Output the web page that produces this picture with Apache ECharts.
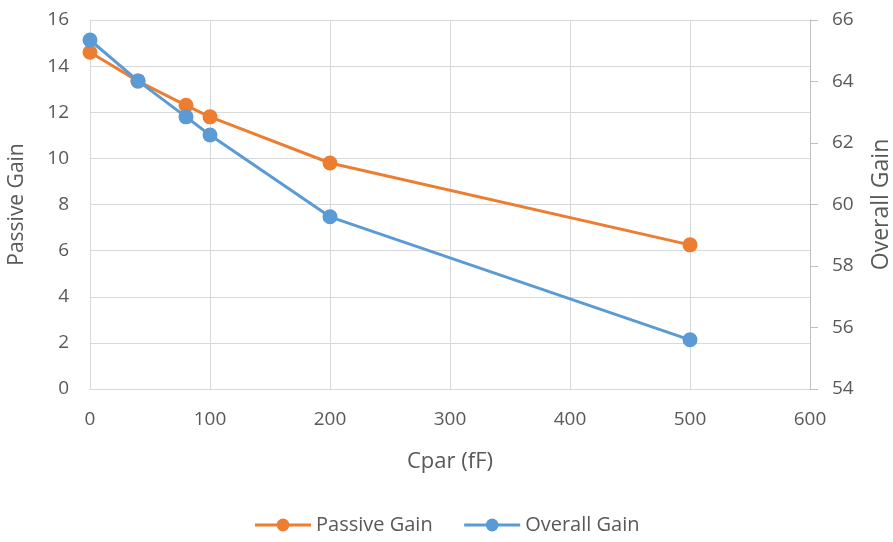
<!DOCTYPE html>
<html>
<head>
<meta charset="utf-8">
<script src="https://cdn.jsdelivr.net/npm/echarts@6/dist/echarts.min.js"></script>
<style>
  html, body { margin: 0; padding: 0; background: #fff; }
  #chart { width: 893px; height: 542px; }
</style>
</head>
<body>
<div id="chart"></div>
<script>
// Parasitic capacitance sweep (fF)
const cpar = [0, 40, 80, 100, 200, 500];
// Gain values at each capacitance
const passiveGain = [14.6, 13.35, 12.3, 11.8, 9.8, 6.25];
const overallGain = [65.35, 64.02, 62.85, 62.26, 59.6, 55.6];

const textColor = '#595959';
const gridColor = '#d9d9d9';
const font = '"Open Sans", "Noto Sans", sans-serif';

const toPairs = (xs, ys) => xs.map((x, i) => [x, ys[i]]);

const chart = echarts.init(document.getElementById('chart'));
chart.setOption({
  animation: false,
  textStyle: { fontFamily: font, color: textColor },
  grid: { left: 90, right: 83, top: 20, bottom: 153, containLabel: false, outerBoundsMode: 'none' },
  legend: {
    bottom: 2,
    left: 'center',
    itemWidth: 56,
    itemHeight: 16,
    itemGap: 30,
    textStyle: { fontSize: 20, color: textColor, fontFamily: font },
    lineStyle: { width: 3 },
    data: ['Passive Gain', 'Overall Gain']
  },
  xAxis: {
    type: 'value',
    min: 0, max: 600, interval: 100,
    name: 'Cpar (fF)',
    nameLocation: 'middle',
    nameGap: 62,
    nameTextStyle: { fontSize: 22, color: textColor },
    axisLine: { show: true, lineStyle: { color: gridColor, width: 1 } },
    axisTick: { show: false },
    axisLabel: { fontSize: 19, color: textColor, margin: 21 },
    splitLine: { show: true, lineStyle: { color: gridColor, width: 1 } }
  },
  yAxis: [
    {
      type: 'value',
      min: 0, max: 16, interval: 2,
      name: 'Passive Gain',
      nameLocation: 'middle',
      nameGap: 62,
      nameTextStyle: { fontSize: 21, color: textColor },
      axisLine: { show: true, lineStyle: { color: gridColor } },
      axisTick: { show: false },
      axisLabel: { fontSize: 19, color: textColor, margin: 21 },
      splitLine: { show: true, lineStyle: { color: gridColor, width: 1 } }
    },
    {
      type: 'value',
      position: 'right',
      min: 54, max: 66, interval: 2,
      name: 'Overall Gain',
      nameLocation: 'middle',
      nameGap: 60,
      nameRotate: 90,
      nameTextStyle: { fontSize: 23, color: textColor },
      axisLine: { show: true, lineStyle: { color: '#bfbfbf' } },
      axisTick: { show: true, length: 8, lineStyle: { color: '#bfbfbf' } },
      axisLabel: { fontSize: 19, color: textColor, margin: 22 },
      splitLine: { show: false }
    }
  ],
  series: [
    {
      name: 'Passive Gain',
      type: 'line',
      yAxisIndex: 0,
      data: toPairs(cpar, passiveGain),
      symbol: 'circle',
      symbolSize: 15,
      lineStyle: { color: '#ED7D31', width: 3 },
      itemStyle: { color: '#ED7D31' },
      z: 2
    },
    {
      name: 'Overall Gain',
      type: 'line',
      yAxisIndex: 1,
      data: toPairs(cpar, overallGain),
      symbol: 'circle',
      symbolSize: 15,
      lineStyle: { color: '#5B9BD5', width: 3 },
      itemStyle: { color: '#5B9BD5' },
      z: 3
    }
  ]
});
</script>
</body>
</html>
